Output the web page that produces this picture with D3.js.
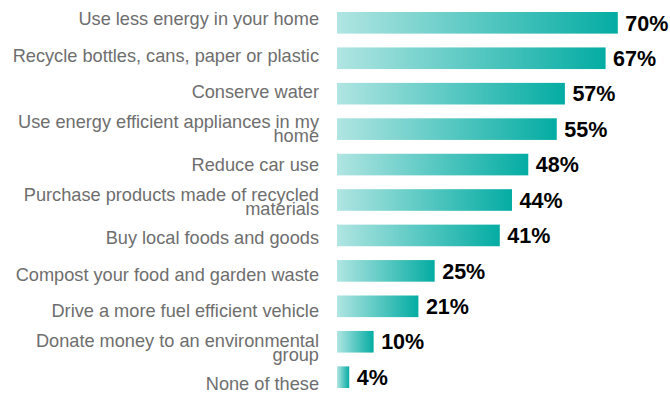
<!DOCTYPE html>
<html>
<head>
<meta charset="utf-8">
<script src="https://cdn.jsdelivr.net/npm/d3@7"></script>
<style>
  html, body { margin: 0; padding: 0; background: #ffffff; }
  svg { display: block; }
</style>
</head>
<body>
<svg id="chart" width="670" height="394"></svg>
<script>
// Share of respondents taking each action
const categories = [
  "Use less energy in your home",
  "Recycle bottles, cans, paper or plastic",
  "Conserve water ",
  "Use energy efficient appliances in my home",
  "Reduce car use",
  "Purchase products made of recycled materials",
  "Buy local foods and goods",
  "Compost your food and garden waste",
  "Drive a more fuel efficient vehicle",
  "Donate money to an environmental group",
  "None of these"
];
// Wrapped label lines, where the label takes two lines
const labelLines = [
  ["Use less energy in your home"],
  ["Recycle bottles, cans, paper or plastic"],
  ["Conserve water "],
  ["Use energy efficient appliances in my", "home"],
  ["Reduce car use"],
  ["Purchase products made of recycled", "materials"],
  ["Buy local foods and goods"],
  ["Compost your food and garden waste"],
  ["Drive a more fuel efficient vehicle"],
  ["Donate money to an environmental", "group"],
  ["None of these"]
];
const values = [70, 67, 57, 55, 48, 44, 41, 25, 21, 10, 4];

const svg = d3.select("#chart");

// Value axis starts at 1% at the plot's left edge
const x = d3.scaleLinear().domain([1, 100]).range([337, 739.9]);
const y = d3.scaleBand().domain(categories).range([12, 388]).paddingInner(0.39).paddingOuter(0);
const yLabel = d3.scalePoint().domain(categories).range([19, 384]);

// Horizontal gradient applied to each bar
const defs = svg.append("defs");
const grad = defs.append("linearGradient")
  .attr("id", "barGrad")
  .attr("x1", "0%").attr("x2", "100%")
  .attr("y1", "0%").attr("y2", "0%");
grad.append("stop").attr("offset", "0%").attr("stop-color", "#b0e5e2");
grad.append("stop").attr("offset", "100%").attr("stop-color", "#04aca3");

const rows = categories.map((c, i) => ({ cat: c, value: values[i], lines: labelLines[i] }));

svg.append("g").selectAll("rect")
  .data(rows)
  .join("rect")
  .attr("x", x.range()[0])
  .attr("y", d => y(d.cat))
  .attr("width", d => x(d.value) - x.range()[0])
  .attr("height", y.bandwidth())
  .attr("fill", "url(#barGrad)");

// Value labels
svg.append("g").selectAll("text")
  .data(rows)
  .join("text")
  .attr("x", d => x(d.value) + 7.5)
  .attr("y", d => y(d.cat) + y.bandwidth() / 2)
  .attr("dy", "0.36em")
  .attr("font-family", "Liberation Sans, Arial, sans-serif")
  .attr("font-weight", "bold")
  .attr("font-size", 21.5)
  .attr("fill", "#000000")
  .text(d => d.value + "%");

// Category labels
const lineGap = 14;
const labels = svg.append("g").selectAll("text")
  .data(rows)
  .join("text")
  .attr("text-anchor", "end")
  .attr("font-family", "Liberation Sans, Arial, sans-serif")
  .attr("font-size", 18.2)
  .attr("fill", "#6e6e6e")
  .attr("y", d => yLabel(d.cat));

labels.selectAll("tspan")
  .data(d => d.lines.map((t, j) => ({ t, j, n: d.lines.length })))
  .join("tspan")
  .attr("x", 319)
  .attr("dy", d => d.j === 0 ? (6.3 - (d.n - 1) * lineGap / 2) : lineGap)
  .text(d => d.t);
</script>
</body>
</html>
